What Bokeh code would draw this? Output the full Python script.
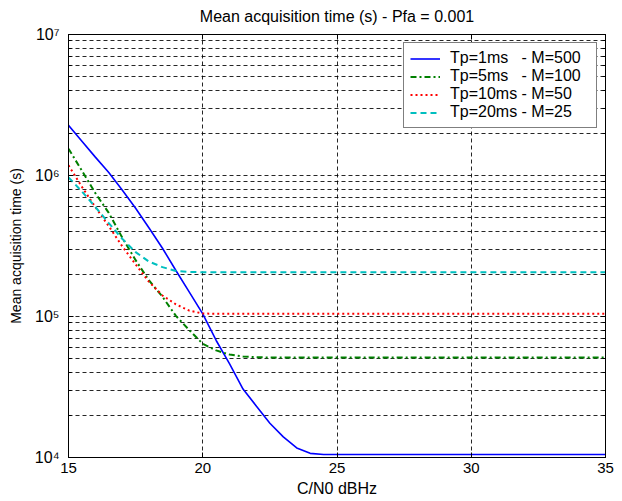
from bokeh.plotting import figure
from bokeh.models import Range1d, FixedTicker, LinearAxis, LogAxis, Legend, LegendItem
from bokeh.embed import file_html
from bokeh.resources import INLINE

# ---------------- data ----------------
cn0_dbhz = [15, 15.5, 16, 16.5, 17, 17.5, 18, 18.5, 19, 19.5, 20, 20.5, 21, 21.5,
            22, 22.5, 23, 23.5, 24, 24.5, 25, 27.5, 30, 32.5, 35]

tp1_m500 = [2.27e6, 1.75e6, 1.35e6, 1.05e6, 7.9e5, 5.86e5, 4.24e5, 3.05e5, 2.12e5, 1.49e5,
            1.045e5, 6.76e4, 4.62e4, 3.06e4, 2.31e4, 1.75e4, 1.40e4, 1.17e4, 1.07e4, 1.05e4,
            1.05e4, 1.05e4, 1.05e4, 1.05e4, 1.05e4]

tp5_m100 = [1.55e6, 1.08e6, 7.5e5, 5.43e5, 3.63e5, 2.51e5, 1.80e5, 1.38e5, 1.01e5, 8.0e4,
            6.4e4, 5.75e4, 5.37e4, 5.2e4, 5.14e4, 5.12e4, 5.12e4, 5.12e4, 5.12e4, 5.12e4,
            5.12e4, 5.12e4, 5.12e4, 5.12e4, 5.12e4]

tp10_m50 = [1.18e6, 8.3e5, 5.97e5, 4.37e5, 3.15e5, 2.34e5, 1.76e5, 1.41e5, 1.22e5, 1.10e5,
            1.05e5, 1.045e5, 1.045e5, 1.045e5, 1.045e5, 1.045e5, 1.045e5, 1.045e5, 1.045e5, 1.045e5,
            1.045e5, 1.045e5, 1.045e5, 1.045e5, 1.045e5]

tp20_m25 = [9.7e5, 7.7e5, 5.98e5, 4.6e5, 3.56e5, 2.86e5, 2.45e5, 2.24e5, 2.10e5, 2.07e5,
            2.06e5, 2.06e5, 2.06e5, 2.06e5, 2.06e5, 2.06e5, 2.06e5, 2.06e5, 2.06e5, 2.06e5,
            2.06e5, 2.06e5, 2.06e5, 2.06e5, 2.06e5]

series_labels = ["Tp=1ms\u00a0\u00a0\u00a0- M=500",
                 "Tp=5ms\u00a0\u00a0\u00a0- M=100",
                 "Tp=10ms - M=50",
                 "Tp=20ms - M=25"]

x_ticks = [15, 20, 25, 30, 35]
y_decades = [10000, 100000, 1000000, 10000000]
y_tick_labels = ["10\u2074", "10\u2075", "10\u2076", "10\u2077"]
y_minor = [m * d for d in y_decades[:-1] for m in range(2, 10)]

title_text = "Mean acquisition time (s) - Pfa = 0.001"
x_label = "C/N0 dBHz"
y_label = "Mean acquisition time (s)"

FONT = "Liberation Sans"

p = figure(frame_width=537, frame_height=423,
           x_range=Range1d(15, 35), y_range=Range1d(1e4, 1e7),
           y_axis_type="log", output_backend="svg", toolbar_location=None,
           min_border_left=68, min_border_right=9, min_border_top=34, min_border_bottom=44,
           title=title_text)

p.title.align = "center"
p.title.vertical_align = "top"
p.title.text_font = FONT
p.title.text_font_size = "16px"
p.title.text_font_style = "normal"
p.title.text_color = "black"
p.title.standoff = 15

p.outline_line_color = "black"
p.outline_line_alpha = 1.0
p.background_fill_color = "white"
p.border_fill_color = "white"

xt = FixedTicker(ticks=x_ticks, minor_ticks=[])
yt = FixedTicker(ticks=y_decades, minor_ticks=y_minor)

xa = p.xaxis[0]
ya = p.yaxis[0]
xa.ticker = xt
ya.ticker = yt
ya.major_label_overrides = {d: lab for d, lab in zip(y_decades, y_tick_labels)}
xa.axis_label = x_label
ya.axis_label = y_label

for ax in (xa, ya):
    ax.axis_line_color = "black"
    ax.major_tick_line_color = "black"
    ax.minor_tick_line_color = "black"
    ax.major_tick_in = 5
    ax.major_tick_out = 0
    ax.minor_tick_in = 3
    ax.minor_tick_out = 0
    ax.major_label_text_font = FONT
    ax.major_label_text_font_size = "15px"
    ax.major_label_text_color = "black"
    ax.axis_label_text_font = FONT
    ax.axis_label_text_font_style = "normal"
    ax.axis_label_text_color = "black"
ya.major_label_text_font_size = "16px"
xa.axis_label_text_font_size = "16px"
ya.axis_label_text_font_size = "14px"
xa.major_label_standoff = 5
xa.axis_label_standoff = 4
ya.major_label_standoff = 9
ya.axis_label_standoff = 8

top_ax = LinearAxis(ticker=xt)
right_ax = LogAxis(ticker=yt)
for ax in (top_ax, right_ax):
    ax.major_label_text_font_size = "2px"
    ax.major_label_text_color = "white"
    ax.major_label_text_alpha = 0.0
    ax.major_label_standoff = 0
    ax.axis_line_color = "black"
    ax.major_tick_line_color = "black"
    ax.minor_tick_line_color = "black"
    ax.major_tick_in = 5
    ax.major_tick_out = 0
    ax.minor_tick_in = 3
    ax.minor_tick_out = 0
p.add_layout(top_ax, "above")
p.add_layout(right_ax, "right")

p.xgrid.ticker = xt
p.ygrid.ticker = yt
for g in (p.xgrid, p.ygrid):
    g.grid_line_color = "black"
    g.grid_line_alpha = 0.85
    g.grid_line_dash = "4 3"
    g.grid_line_width = 1
p.ygrid.minor_grid_line_color = "black"
p.ygrid.minor_grid_line_alpha = 0.85
p.ygrid.minor_grid_line_dash = "4 3"

r1 = p.line(cn0_dbhz, tp1_m500, line_color="#0000ff", line_width=1.6)
r2 = p.line(cn0_dbhz, tp5_m100, line_color="#008000", line_width=2, line_dash="6 3 2 3")
r3 = p.line(cn0_dbhz, tp10_m50, line_color="#ff0000", line_width=2, line_dash="2 3")
r4 = p.line(cn0_dbhz, tp20_m25, line_color="#00bfbf", line_width=2, line_dash="6 4")

legend = Legend(items=[LegendItem(label=lab, renderers=[r])
                       for lab, r in zip(series_labels, [r1, r2, r3, r4])],
                location="top_right")
legend.border_line_color = "black"
legend.border_line_width = 1
legend.background_fill_color = "white"
legend.background_fill_alpha = 1.0
legend.label_text_font = FONT
legend.label_text_font_size = "16px"
legend.label_text_color = "black"
legend.glyph_width = 30
legend.glyph_height = 15
legend.label_height = 15
legend.label_width = 140
legend.spacing = 0
legend.padding = 6
legend.margin = 8
legend.label_standoff = 10
p.add_layout(legend)

open("out.html", "w").write(file_html(p, INLINE))
